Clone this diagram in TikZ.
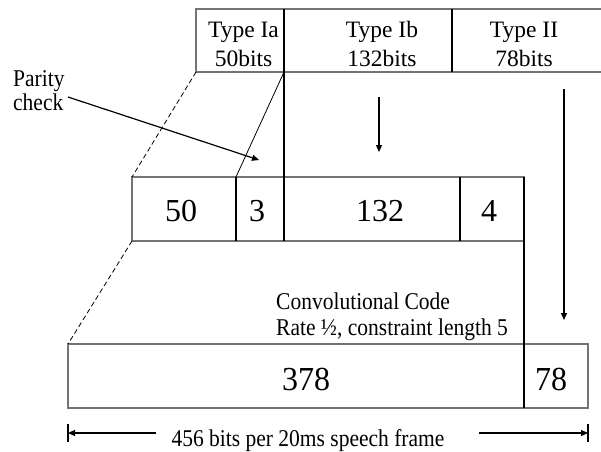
\documentclass[tikz,border=0pt]{standalone}
\usepackage{graphicx}
\usepackage{fontspec}
\setmainfont{Liberation Serif}
\usetikzlibrary{arrows.meta}
\newcommand{\tallprint}[1]{\scalebox{1}[1.12]{#1}}
\tikzset{
  cell/.style={draw=none, inner sep=0, outer sep=0, anchor=north west},
  edge/.style={draw=black!55, line width=1.3pt},
  divider/.style={draw=black, line width=1.8pt},
  guide/.style={draw=black, line width=0.8pt},
  guidedash/.style={draw=black, line width=0.8pt, dash pattern=on 5pt off 3pt},
  arrowline/.style={draw=black, line width=1.2pt, -{Triangle[length=7pt,width=6pt]}},
  head/.style={font=\fontsize{23.5}{29.5}\selectfont, inner sep=0, anchor=base, align=center},
  lbl/.style={font=\fontsize{21.5}{26}\selectfont, inner sep=0, anchor=base},
  note/.style={font=\fontsize{21.5}{24.5}\selectfont, inner sep=0, anchor=base west},
  big/.style={font=\fontsize{32}{38}\selectfont, inner sep=0, anchor=base},
}
\begin{document}
\begin{tikzpicture}[x=1pt, y=-1pt]
\useasboundingbox (0,0) rectangle (601,451);

% top row: speech coder output classes (base anchor sits on the last line)
\node[cell, minimum width=88pt,  minimum height=63pt] (tIa) at (196,9) {};
\node[cell, minimum width=168pt, minimum height=63pt] (tIb) at (284,9) {};
\node[cell, minimum width=149pt, minimum height=63pt] (tII) at (452,9) {};
\draw[edge] (tII.north east) -- (tIa.north west) -- (tIa.south west) -- (tII.south east);
\node[head] (lIa) at (243.5,66.5) {Type Ia\\50bits};
\node[head] (lIb) at (382,66.5) {Type Ib\\132bits};
\node[head] (lII) at (524,66.5) {Type II\\78bits};

% middle row: class I bits with parity and tail bits
\node[cell, minimum width=104pt, minimum height=64pt] (m50)  at (132,177) {};
\node[cell, minimum width=48pt,  minimum height=64pt] (m3)   at (236,177) {};
\node[cell, minimum width=176pt, minimum height=64pt] (m132) at (284,177) {};
\node[cell, minimum width=64pt,  minimum height=64pt] (m4)   at (460,177) {};
\draw[edge] (m50.north west) rectangle (m4.south east);
\node[big] (t50)  at (181,221) {50};
\node[big] (t3)   at (257,221) {3};
\node[big] (t132) at (380,221) {132};
\node[big] (t4)   at (489,221) {4};

% bottom row: coded frame
\node[cell, minimum width=456pt, minimum height=64pt] (b378) at (68,344) {};
\node[cell, minimum width=64pt,  minimum height=64pt] (b78)  at (524,344) {};
\draw[edge] (b378.north west) rectangle (b78.south east);
\node[big] (t378) at (306,390) {\scalebox{1}[1.05]{378}};
\node[big] (t78)  at (551,390) {\scalebox{1}[1.05]{78}};

% black dividers
\draw[divider] (tIa.north east) -- (m3.south east);
\draw[divider] (tIb.north east) -- (tIb.south east);
\draw[divider] (m50.north east) -- (m50.south east);
\draw[divider] (m132.north east) -- (m132.south east);
\draw[divider] (m4.north east) -- (b378.south east);

% expansion guides
\draw[guidedash] (tIa.south west) -- (m50.north west);
\draw[guidedash] (m50.south west) -- (b378.north west);
\draw[guide] (tIa.south east) -- (m3.north west);

% annotations
\node[note] (parity1) at (13,86) {\tallprint{Parity}};
\node[note] (parity2) at (13,110) {\tallprint{check}};
\coordinate (pfrom) at (68,97);
\coordinate (pto) at (259,160);
\draw[arrowline] (pfrom) -- (pto);

\coordinate (ibfrom) at (379,97);
\coordinate (ibto) at (379,152);
\draw[arrowline] (ibfrom) -- (ibto);

\coordinate (iifrom) at (564,89);
\coordinate (iito) at (564,320);
\draw[arrowline] (iifrom) -- (iito);

\node[note] (conv1) at (276,309) {\tallprint{Convolutional Code}};
\node[note] (conv2) at (276,335) {\tallprint{Rate ½, constraint length 5}};

% frame length dimension
\node[lbl] (dimtxt) at (308,446) {\tallprint{456 bits per 20ms speech frame}};
\coordinate (dimL) at (68,433);
\coordinate (dimR) at (588,433);
\draw[line width=2pt] (68,424) -- (68,442);
\draw[line width=2pt] (588,424) -- (588,442);
\draw[arrowline] (156,433) -- (dimL);
\draw[arrowline] (479,433) -- (dimR);
\end{tikzpicture}
\end{document}
